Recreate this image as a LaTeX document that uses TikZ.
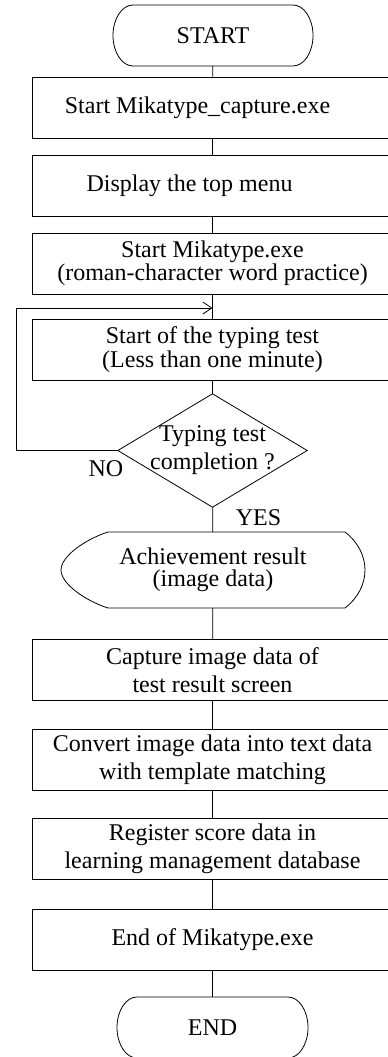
\documentclass[tikz,border=0pt]{standalone}
\usepackage{fontspec}
\setmainfont{Liberation Serif}
\usetikzlibrary{arrows.meta}
\newcommand\myshiftleft[2]{\hbox to 0pt{\hss #2\hskip #1\hss}}
\begin{document}
\begin{tikzpicture}[x=1pt,y=1pt,
  line/.style={draw=black, line width=0.8pt},
  txt/.style={font=\fontsize{24}{28}\selectfont, inner sep=0pt, align=center},
  procbox/.style={txt, line, minimum width=361pt, minimum height=61pt},
  lbl/.style={font=\fontsize{24}{28}\selectfont, inner sep=0pt}
]
\useasboundingbox (0,0) rectangle (388,-1057);
\clip (0,0) rectangle (388,-1057);

% terminals
\node[txt, minimum width=189pt, minimum height=61pt] (start) at (213,-35.5) {START};
\draw[line] (133,-5) -- (293,-5) arc[start angle=90, end angle=-90, x radius=20, y radius=30.5]
  -- (133,-66) arc[start angle=270, end angle=90, x radius=20, y radius=30.5] -- cycle;

\node[procbox] (b1) at (212.5,-107.5) {\myshiftleft{30pt}{Start Mikatype\_capture.exe}};
\node[procbox] (b2) at (212.5,-185.5) {\myshiftleft{46pt}{Display the top menu}};
\node[procbox, font=\fontsize{24}{18}\selectfont] (b3) at (212.5,-263.5) {Start Mikatype.exe\\(roman-character word practice)};
\node[procbox, font=\fontsize{24}{24}\selectfont] (b4) at (212.5,-350) {Start of the typing test\\(Less than one minute)};

% decision
\node[txt, minimum width=189pt, minimum height=113pt] (d) at (212.5,-450.5) {Typing test\\completion ?};
\draw[line] (d.north) -- (d.east) -- (d.south) -- (d.west) -- cycle;

% display
\node[txt, font=\fontsize{24}{22}\selectfont, minimum width=304pt, minimum height=76pt] (ach) at (213,-570) {Achievement result\\(image data)};
\draw[line] (108,-532) -- (345,-532) .. controls (358,-542) and (365,-556) .. (365,-570)
  .. controls (365,-584) and (358,-598) .. (345,-608) -- (108,-608)
  .. controls (86,-601) and (61,-584) .. (61,-570)
  .. controls (61,-556) and (86,-539) .. (108,-532) -- cycle;

\node[procbox] (b5) at (212.5,-670) {Capture image data of\\test result screen};
\node[procbox] (b6) at (212.5,-759.5) {Convert image data into text data\\with template matching};
\node[procbox] (b7) at (212.5,-848.5) {Register score data in\\learning management database};
\node[procbox] (b8) at (212.5,-939.5) {End of Mikatype.exe};

\node[txt, minimum width=191pt, minimum height=61pt] (end) at (212.5,-1027.5) {END};
\draw[line] (137,-997) -- (288,-997) arc[start angle=90, end angle=-90, x radius=20, y radius=30.5]
  -- (137,-1058) arc[start angle=270, end angle=90, x radius=20, y radius=30.5] -- cycle;

% labels
\node[lbl] (no) at (106,-469) {NO};
\node[lbl] (yes) at (258.5,-518) {YES};

% connectors
\draw[line] (start) -- (b1);
\draw[line] (b1) -- (b2);
\draw[line] (b2) -- (b3);
\draw[line] (b3) -- (b4);
\draw[line] (b4) -- (d);
\draw[line] (d) -- (ach);
\draw[line] (ach) -- (b5);
\draw[line] (b5) -- (b6);
\draw[line] (b6) -- (b7);
\draw[line] (b7) -- (b8);
\draw[line] (b8) -- (end);

\coordinate (lp1) at (16,-450.5);
\coordinate (lp2) at (16,-308);
\coordinate (lp3) at (212.5,-308);
\draw[line, -{Straight Barb[length=9pt,width=12pt]}] (d.west) -- (lp1) -- (lp2) -- (lp3);
\end{tikzpicture}
\end{document}
